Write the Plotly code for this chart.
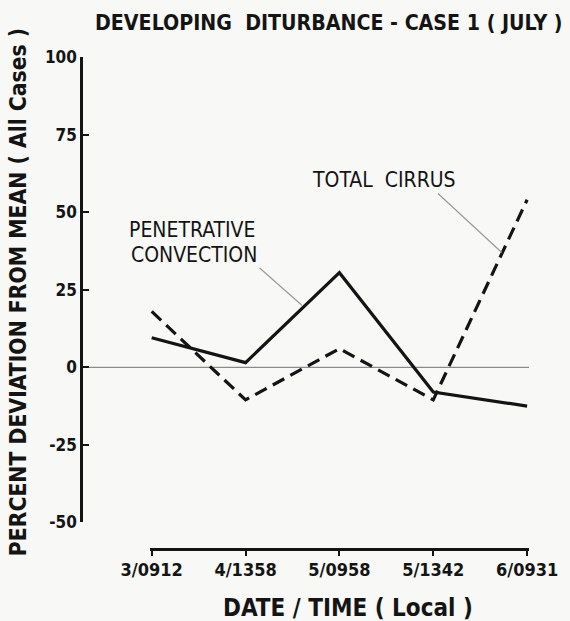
import plotly.graph_objects as go

# Observation times (date / local time) and percent deviation from the all-case mean
times = ["3/0912", "4/1358", "5/0958", "5/1342", "6/0931"]
penetrative_convection = [9.5, 1.5, 30.5, -8.0, -12.5]
total_cirrus = [18.0, -10.5, 6.0, -10.5, 54.0]
y_ticks = [-50, -25, 0, 25, 50, 75, 100]
y_tick_text = ["-50", "-25", "0", "25", "50", "75", "100"]

FONT = "Liberation Sans Narrow, DejaVu Sans Condensed, Arial Narrow, sans-serif"
INK = "#141414"
BG = "#f8f8f6"

x_pos = list(range(len(times)))

fig = go.Figure()

fig.add_trace(go.Scatter(
    x=x_pos, y=penetrative_convection, mode="lines",
    line=dict(color=INK, width=3.2), name="PENETRATIVE CONVECTION",
    showlegend=False,
))
fig.add_trace(go.Scatter(
    x=x_pos, y=total_cirrus, mode="lines",
    line=dict(color=INK, width=3.2, dash="13px,7px"), name="TOTAL CIRRUS",
    showlegend=False,
))

# zero reference line running from the y axis across the plot
fig.add_shape(type="line", xref="paper", yref="y", x0=0, x1=1, y0=0, y1=0,
              line=dict(color="#8a8a8a", width=1.3), layer="below")

# leader lines from the labels to their curves
fig.add_shape(type="line", xref="x", yref="y", x0=3.05, y0=56, x1=3.73, y1=37,
              line=dict(color="#9a9a9a", width=1.2))
fig.add_shape(type="line", xref="x", yref="y", x0=1.15, y0=32, x1=1.6, y1=20,
              line=dict(color="#9a9a9a", width=1.2))

label_font = dict(family=FONT, size=21, color=INK)
fig.add_annotation(text="TOTAL  CIRRUS", xref="x", yref="y", x=2.47, y=60.3,
                   showarrow=False, font=label_font)
fig.add_annotation(text="PENETRATIVE", xref="x", yref="y", x=0.43, y=44.4,
                   showarrow=False, font=label_font, borderpad=0)
fig.add_annotation(text="CONVECTION", xref="x", yref="y", x=0.45, y=36.2,
                   showarrow=False, font=label_font, borderpad=0)

# titles
fig.add_annotation(text="<b>DEVELOPING  DITURBANCE - CASE 1 ( JULY )</b>", xref="paper", yref="paper",
                   x=1.08, y=1.0, yshift=35, xanchor="right", yanchor="middle",
                   showarrow=False, font=dict(family=FONT, size=21.2, color=INK))
fig.add_annotation(text="<b>DATE / TIME ( Local )</b>", xref="paper", yref="paper",
                   x=0.595, y=0, yshift=-59, xanchor="center", yanchor="middle",
                   showarrow=False, font=dict(family=FONT, size=24, color=INK))
fig.add_annotation(text="<b>PERCENT DEVIATION FROM MEAN ( All Cases )</b>", xref="paper", yref="paper",
                   x=0, xshift=-63, y=0.522, textangle=-90, xanchor="center", yanchor="middle",
                   showarrow=False, font=dict(family=FONT, size=22.7, color=INK))

fig.update_layout(
    width=570, height=621,
    margin=dict(l=81, r=36, t=57, b=72),
    paper_bgcolor=BG, plot_bgcolor=BG,
    xaxis=dict(
        domain=[0.1536, 1], range=[-0.02, 4.02],
        tickmode="array", tickvals=x_pos, ticktext=times,
        ticks="outside", ticklen=5, tickwidth=2, tickcolor=INK,
        showline=True, linecolor=INK, linewidth=2.5,
        showgrid=False, zeroline=False,
        tickfont=dict(family=FONT, size=18, color=INK, weight="bold"),
        ticklabelstandoff=-1,
        anchor="free", position=0,
    ),
    yaxis=dict(
        domain=[0.054, 1], range=[-50, 100],
        anchor="free", position=0,
        tickmode="array", tickvals=y_ticks, ticktext=y_tick_text,
        ticks="inside", ticklen=6, tickwidth=2, tickcolor=INK,
        showline=True, linecolor=INK, linewidth=2.5,
        showgrid=False, zeroline=False,
        tickfont=dict(family=FONT, size=17, color=INK, weight="bold"),
    ),
)

fig.write_html("out.html")
